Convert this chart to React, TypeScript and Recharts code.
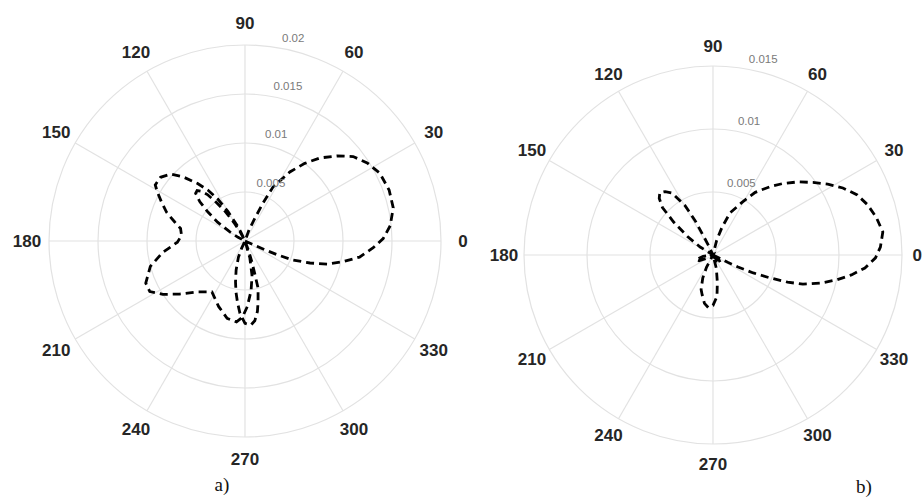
import React from 'react';
import { RadarChart, Radar, PolarGrid, PolarAngleAxis, PolarRadiusAxis } from 'recharts';

// Pattern a): trace of the dashed curve, listed in drawing order (angle in degrees, radius)
const anglesA = [
  334, 336, 337, 338.4, 341.3, 344.3, 348, 352, 357, 1, 6, 12.6, 19.5, 26.7, 32.6, 38, 42.7, 48,
  52.4, 57, 62.6, 64.6, 66.5, 70, 72,
  245, 248, 253, 257, 260, 263, 266, 270, 274, 277, 280, 282, 285.5, 286.5, 288, 290, 293,
  112, 115, 117, 120, 123, 126, 129.5, 134, 138, 143, 148, 151, 155, 160, 165, 169, 175, 181, 188,
  195, 203, 208, 213, 219, 227, 237, 248, 257, 264, 268, 272, 277, 281.5, 286, 290,
  116, 118, 121, 124, 127, 129, 131, 133.5, 136, 139, 142, 145.5, 149, 152, 155,
];
const radiiA = [
  0, 0.0022, 0.0037, 0.0053, 0.007, 0.0087, 0.0102, 0.0118, 0.0131, 0.0141, 0.0149, 0.0155, 0.0156,
  0.0154, 0.0148, 0.014, 0.0128, 0.0114, 0.01, 0.0084, 0.0062, 0.0043, 0.0026, 0.0012, 0,
  0.0008, 0.0018, 0.0031, 0.0043, 0.0053, 0.0063, 0.0074, 0.0084, 0.0086, 0.0082, 0.0073, 0.0064,
  0.005, 0.0036, 0.0024, 0.0012, 0,
  0, 0.001, 0.0018, 0.0035, 0.0051, 0.0064, 0.0076, 0.0091, 0.0102, 0.0108, 0.0108, 0.0102, 0.0094,
  0.0085, 0.0074, 0.0067, 0.0065, 0.0069, 0.0085, 0.01, 0.011, 0.011, 0.01, 0.0086, 0.0071, 0.0062,
  0.0072, 0.0081, 0.0083, 0.0078, 0.0067, 0.0051, 0.0036, 0.0018, 0,
  0, 0.001, 0.0022, 0.0037, 0.0051, 0.0061, 0.0067, 0.0071, 0.007, 0.0061, 0.0048, 0.0034, 0.0018,
  0.0008, 0,
];

// Pattern b): trace of the dashed curve, listed in drawing order (angle in degrees, radius)
const anglesB = [
  332, 333.4, 334.4, 336, 338, 340, 342, 345.3, 348.6, 351.8, 355.1, 359, 2.7, 7.7, 13, 18, 22.6,
  27.3, 31.7, 36, 40.7, 45.8, 50, 56, 61, 68, 72, 76, 80,
  113, 115, 116.6, 117.5, 119.5, 123.5, 127, 130.5, 133.5, 136.8, 140, 144, 148, 152,
  180, 188, 195, 202, 208, 212,
  236, 242, 246, 251, 255, 260, 265, 270, 275.5, 279, 284, 290,
  298, 305, 313, 321, 328,
];
const radiiB = [
  0, 0.0013, 0.0022, 0.0035, 0.0048, 0.0063, 0.0075, 0.0088, 0.01, 0.0111, 0.0121, 0.0129, 0.0133,
  0.0136, 0.0133, 0.0129, 0.0124, 0.0116, 0.0107, 0.0098, 0.0089, 0.0079, 0.0071, 0.006, 0.0048,
  0.0036, 0.0023, 0.0012, 0,
  0, 0.0008, 0.0017, 0.0031, 0.0045, 0.0059, 0.0063, 0.0065, 0.0062, 0.0055, 0.0041, 0.0025, 0.0012, 0,
  0, 0.0008, 0.0014, 0.0012, 0.0006, 0,
  0, 0.0011, 0.002, 0.0029, 0.0033, 0.0039, 0.0042, 0.004, 0.0033, 0.0022, 0.0011, 0,
  0, 0.0006, 0.0009, 0.0006, 0,
];

const angleTicks = [0, 30, 60, 90, 120, 150, 180, 210, 240, 270, 300, 330];
const radiusTicksA = [0, 0.005, 0.01, 0.015, 0.02];
const radiusTicksB = [0, 0.005, 0.01, 0.015];

const PAGE_W = 923;
const PAGE_H = 497;

const toRows = (angles: number[], radii: number[]) =>
  angles.map((angle, i) => ({ angle, r: radii[i] }));

const dataA = toRows(anglesA, radiiA);
const dataB = toRows(anglesB, radiiB);

const sans = "Arial, 'Liberation Sans', Helvetica, sans-serif";

const AngleTick = (props: any) => {
  const { x, y, payload } = props;
  const v = payload.value;
  if (v >= 360) return <g />;
  // keep labels that fall at the page's right edge fully visible
  const nearEdge = x > PAGE_W - 8;
  return (
    <text
      x={nearEdge ? PAGE_W - 1 : x}
      y={y}
      textAnchor={nearEdge ? 'end' : 'middle'}
      dominantBaseline="central"
      fontSize={17}
      fontWeight="bold"
      fill="#262626"
      fontFamily={sans}
    >
      {v}
    </text>
  );
};

const RadiusTick = (props: any) => {
  const { x, y, payload } = props;
  const v = payload.value;
  if (!v) return <g />;
  return (
    <text
      x={x + 3}
      y={y - 10}
      textAnchor="start"
      dominantBaseline="central"
      fontSize={11.5}
      fill="#7a7a7a"
      fontFamily={sans}
    >
      {Number(Number(v).toFixed(3)).toString()}
    </text>
  );
};

type PatternProps = {
  data: { angle: number; r: number }[];
  cx: number;
  cy: number;
  radius: number;
  rTicks: number[];
  labelGap: number;
};

function PolarPattern({ data, cx, cy, radius, rTicks, labelGap }: PatternProps) {
  return (
    <div style={{ position: 'absolute', left: 0, top: 0 }}>
      <RadarChart
        width={PAGE_W}
        height={PAGE_H}
        data={data}
        cx={cx}
        cy={cy}
        innerRadius={0}
        outerRadius={radius}
        startAngle={0}
        endAngle={360}
        margin={{ top: 0, right: 0, bottom: 0, left: 0 }}
      >
        <PolarGrid gridType="circle" stroke="#e2e2e2" strokeWidth={1.2} />
        <PolarAngleAxis
          dataKey="angle"
          type="number"
          domain={[0, 360]}
          ticks={angleTicks}
          tickCount={13}
          tick={AngleTick}
          tickLine={false}
          axisLine={false}
          tickSize={labelGap}
        />
        <PolarRadiusAxis
          angle={80}
          type="number"
          domain={[0, rTicks[rTicks.length - 1]]}
          ticks={rTicks}
          tickCount={rTicks.length}
          tick={RadiusTick}
          axisLine={false}
          tickLine={false}
        />
        <Radar
          dataKey="r"
          stroke="#000"
          strokeWidth={2.8}
          strokeDasharray="8 5"
          fill="none"
          fillOpacity={0}
          dot={false}
          isAnimationActive={false}
        />
      </RadarChart>
    </div>
  );
}

export default function App() {
  return (
    <div
      style={{
        position: 'absolute',
        left: 0,
        top: 0,
        width: PAGE_W,
        height: PAGE_H,
        background: '#fff',
        overflow: 'hidden',
      }}
    >
      <PolarPattern data={dataA} cx={245} cy={241} radius={196} rTicks={radiusTicksA} labelGap={22} />
      <PolarPattern data={dataB} cx={713} cy={255} radius={189} rTicks={radiusTicksB} labelGap={20} />
      <svg width={PAGE_W} height={PAGE_H} style={{ position: 'absolute', left: 0, top: 0, pointerEvents: 'none' }}>
        <text
          x={222}
          y={484}
          textAnchor="middle"
          dominantBaseline="central"
          fontSize={19}
          fontFamily="'Liberation Serif', 'Times New Roman', serif"
          fill="#111"
        >
          a)
        </text>
        <text
          x={864}
          y={486}
          textAnchor="middle"
          dominantBaseline="central"
          fontSize={19}
          fontFamily="'Liberation Serif', 'Times New Roman', serif"
          fill="#111"
        >
          b)
        </text>
      </svg>
    </div>
  );
}
